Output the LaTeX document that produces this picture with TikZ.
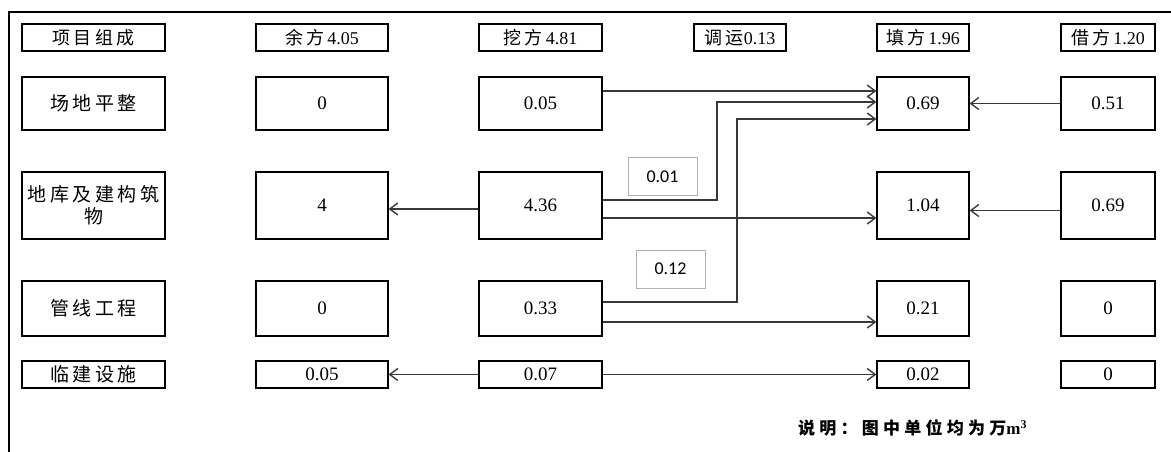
\documentclass[tikz,border=0pt]{standalone}
\usepackage{fontspec}
\setmainfont{Liberation Serif}
\newfontfamily\cjk[LetterSpace=18]{Noto Sans CJK SC}
\newfontfamily\cjknote[LetterSpace=25]{Noto Sans CJK SC}
\newfontfamily\calib{Carlito}
\usetikzlibrary{arrows.meta}
\begin{document}
\begin{tikzpicture}[x=1pt,y=-1pt,
  box/.style={draw=black, line width=1.2pt, inner sep=0pt, font=\fontsize{19}{22}\selectfont, align=center},
  hbox/.style={box, font=\fontsize{18}{21}\selectfont},
  ca/.style={minimum width=143pt},
  cb/.style={minimum width=132pt},
  cc/.style={minimum width=123pt},
  cd/.style={minimum width=92pt},
  ce/.style={minimum width=94pt},
  ra/.style={minimum height=27pt},
  rb/.style={minimum height=53pt},
  rc/.style={minimum height=67pt},
  rd/.style={minimum height=55pt},
  lbl/.style={draw=black!30, line width=0.8pt, inner sep=0pt, minimum width=69pt, minimum height=38pt, font=\calib\fontsize{18}{20}\selectfont},
  conn/.style={draw=black!78, line width=1.5pt, -{Straight Barb[length=8pt,width=12pt,line width=1.4pt]}},
  frame/.style={draw=black, line width=1.2pt}]
\useasboundingbox (0,0) rectangle (1171,452);
\draw[frame] (9,452) -- (9,12) -- (1171,12);
% headers
\node[hbox,ca,ra] (h1) at (93.5,37.5) {\cjk 项目组成};
\node[hbox,cb,ra] (h2) at (322,37.5) {{\cjk 余方}\hspace{3pt}4.05};
\node[hbox,cc,ra] (h3) at (540.5,37.5) {{\cjk 挖方}\hspace{3pt}4.81};
\node[hbox,cd,ra] (h6) at (740,37.5) {{\cjk 调运}0.13};
\node[hbox,cd,ra] (h4) at (923,37.5) {{\cjk 填方}\hspace{3pt}1.96};
\node[hbox,ce,ra] (h5) at (1108,37.5) {{\cjk 借方}\hspace{3pt}1.20};
% row 1
\node[box,ca,rb] (n1) at (93.5,103.5) {\cjk 场地平整};
\node[box,cb,rb] (y1) at (322,103.5) {0};
\node[box,cc,rb] (w1) at (540.5,103.5) {0.05};
\node[box,cd,rb] (f1) at (923,103.5) {0.69};
\node[box,ce,rb] (j1) at (1108,103.5) {0.51};
% row 2
\node[box,ca,rc] (n2) at (93.5,205.5) {\cjk 地库及建构筑\\\cjk 物};
\node[box,cb,rc] (y2) at (322,205.5) {4};
\node[box,cc,rc] (w2) at (540.5,205.5) {4.36};
\node[box,cd,rc] (f2) at (923,205.5) {1.04};
\node[box,ce,rc] (j2) at (1108,205.5) {0.69};
% row 3
\node[box,ca,rd] (n3) at (93.5,308.5) {\cjk 管线工程};
\node[box,cb,rd] (y3) at (322,308.5) {0};
\node[box,cc,rd] (w3) at (540.5,308.5) {0.33};
\node[box,cd,rd] (f3) at (923,308.5) {0.21};
\node[box,ce,rd] (j3) at (1108,308.5) {0};
% row 4
\node[box,ca,ra] (n4) at (93.5,374.5) {\cjk 临建设施};
\node[box,cb,ra] (y4) at (322,374.5) {0.05};
\node[box,cc,ra] (w4) at (540.5,374.5) {0.07};
\node[box,cd,ra] (f4) at (923,374.5) {0.02};
\node[box,ce,ra] (j4) at (1108,374.5) {0};
% transfer labels
\node[lbl] (l1) at (662.5,176.5) {0.01};
\node[lbl] (l2) at (670.5,269) {0.12};
% bends
\coordinate (k1) at (717,102);
\coordinate (k2) at (737,119);
% connectors
\draw[conn] ([yshift=12.5pt]w1.east) -- ([yshift=12.5pt]f1.west);
\draw[conn] ([yshift=5.5pt]w2.east) -| (k1) -- ([yshift=1.5pt]f1.west);
\draw[conn] ([yshift=6.5pt]w3.east) -| (k2) -- ([yshift=-15.5pt]f1.west);
\draw[conn] ([yshift=-12.5pt]w2.east) -- ([yshift=-12.5pt]f2.west);
\draw[conn] ([yshift=-3.5pt]w2.west) -- ([yshift=-3.5pt]y2.east);
\draw[conn] ([yshift=-13.5pt]w3.east) -- ([yshift=-13.5pt]f3.west);
\draw[conn] (j1.west) -- (f1.east);
\draw[conn] ([yshift=-5pt]j2.west) -- ([yshift=-5pt]f2.east);
\draw[conn] (w4.west) -- (y4.east);
\draw[conn] (w4.east) -- (f4.west);
% note
\node[anchor=west, inner sep=0pt, font=\fontsize{17}{20}\selectfont] (note) at (798,428) {{\cjknote\bfseries 说明：图中单位均为万}{\bfseries m\textsuperscript{3}}};
\end{tikzpicture}
\end{document}
